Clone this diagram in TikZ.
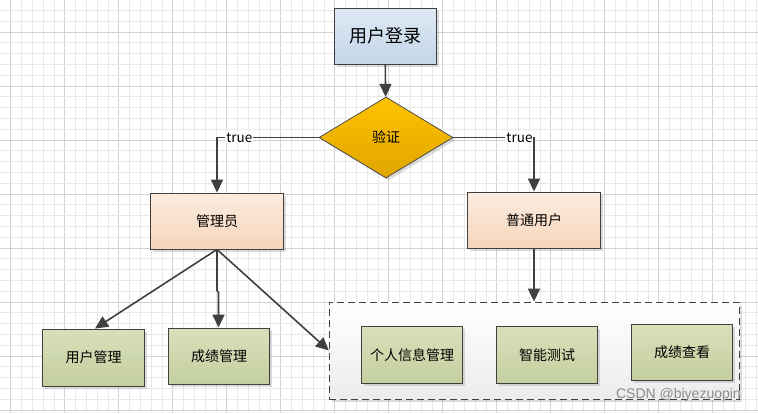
\documentclass[tikz,border=0pt]{standalone}
\usepackage{fontspec}
\setmainfont{Noto Sans CJK SC}
\newfontfamily\wmfont{Liberation Sans}
\usetikzlibrary{arrows.meta,shapes.geometric,shadows,calc}
\definecolor{edgec}{HTML}{404040}
\definecolor{gridminor}{HTML}{E8E8E8}
\definecolor{gridmajor}{HTML}{D2D2D2}
\definecolor{bluetop}{RGB}{222,233,244}
\definecolor{bluebot}{RGB}{196,214,232}
\begin{document}
\begin{tikzpicture}[x=1pt,y=-1pt,
  shad/.style={drop shadow={shadow xshift=2.5pt,shadow yshift=-2.5pt,opacity=0.3,fill=black!45}},
  boxbase/.style={draw=black!75, line width=0.9pt, inner sep=0pt, shad, font=\fontsize{14}{16}\selectfont},
  bluebox/.style={boxbase, minimum width=102pt, minimum height=56pt, top color=bluetop, bottom color=bluebot, font=\fontsize{18}{20}\selectfont},
  peachbox/.style={boxbase, minimum width=133pt, minimum height=56pt, top color={rgb,255:red,252;green,236;blue,223}, bottom color={rgb,255:red,246;green,213;blue,186}},
  greenbox/.style={boxbase, minimum width=101pt, minimum height=56pt, top color={rgb,255:red,216;green,224;blue,187}, bottom color={rgb,255:red,196;green,207;blue,158}},
  decision/.style={diamond, draw=black!70, line width=0.8pt, inner sep=0pt, minimum width=134pt, minimum height=81pt, top color={rgb,255:red,255;green,194;blue,0}, bottom color={rgb,255:red,224;green,166;blue,0}, shad, font=\fontsize{14}{16}\selectfont},
  group/.style={draw=edgec, line width=0.9pt, dash pattern=on 7pt off 4pt, top color=white, bottom color={rgb,255:red,236;green,236;blue,236}, shad},
  conn/.style={draw=edgec, line width=1.6pt, -{Triangle[length=13pt,width=12pt]}},
  lbl/.style={fill=white, inner sep=1pt, font=\fontsize{13.5}{15}\selectfont}
]
\useasboundingbox (0,0) rectangle (758,413);
\fill[white] (0,0) rectangle (758,413);
% grid
\foreach \k in {0,...,70}{
  \pgfmathsetmacro{\xx}{10.7+10.8*\k}
  \pgfmathtruncatemacro{\mm}{mod(\k,5)}
  \ifnum\mm=0
    \draw[gridmajor, line width=0.8pt] (\xx,0) -- (\xx,413);
  \else
    \draw[gridminor, line width=0.8pt] (\xx,0) -- (\xx,413);
  \fi
}
\foreach \k in {0,...,38}{
  \pgfmathsetmacro{\yy}{10.3+10.8*\k}
  \pgfmathtruncatemacro{\mm}{mod(\k,5)}
  \ifnum\mm=2
    \draw[gridmajor, line width=0.8pt] (0,\yy) -- (758,\yy);
  \else
    \draw[gridminor, line width=0.8pt] (0,\yy) -- (758,\yy);
  \fi
}

% nodes
\node[bluebox] (login) at (385,36) {用户登录};
\node[decision] (verify) at (386,137.5) {验证};
\node[peachbox] (admin) at (217,221) {管理员};
\node[peachbox] (user) at (534,220) {普通用户};
\node[group, minimum width=410pt, minimum height=97pt, inner sep=0pt] (grp) at (534.3,350.5) {};
\node[greenbox, minimum height=57pt] (info) at (412,355) {个人信息管理};
\node[greenbox, minimum height=57pt] (test) at (547,355) {智能测试};
\node[greenbox] (view) at (682,352) {成绩查看};
\node[greenbox, minimum width=102pt, minimum height=57pt] (um) at (93.5,357.5) {用户管理};
\node[greenbox] (gm) at (219,356) {成绩管理};

% connectors
\draw[conn] (login) -- (verify);
\draw[conn] (verify.west) -| node[lbl, pos=0.39] {true} (admin.north);
\draw[conn] (verify.east) -| node[lbl, pos=0.41] {true} (user.north);
\draw[conn] (user) -- (grp.north -| user.south);
\draw[conn] (admin.south) -- ($(um.north)+(1.5,0)$);
\coordinate (jog1) at ($(admin.south)+(0,41)$);
\coordinate (jog2) at ($(admin.south)+(1.5,43)$);
\draw[conn] (admin.south) -- (jog1) -- (jog2) -- (jog2 |- gm.north);
\draw[conn] (admin.south) -- (grp.west);

% watermark
\node[anchor=east, inner sep=0pt, text=black!45, font=\wmfont\fontsize{14}{16}\selectfont] (wm) at (741,395) {CSDN @biyezuopin};
\end{tikzpicture}
\end{document}
